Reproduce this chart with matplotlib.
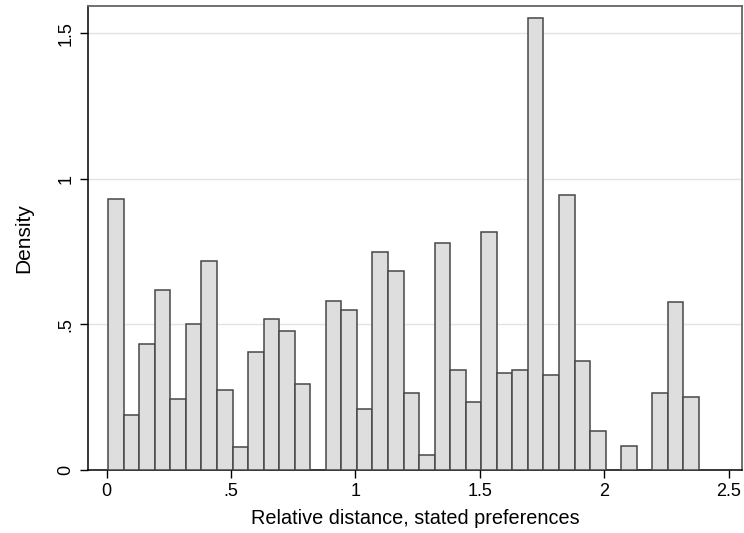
import numpy as np
import matplotlib
matplotlib.use("Agg")
import matplotlib.pyplot as plt

# histogram bins (38 bins, width ~0.0625, starting near 0.006)
bin_start = 0.006
bin_width = 0.0625
density = [0.931, 0.187, 0.430, 0.619, 0.242, 0.501, 0.718, 0.275, 0.076, 0.405,
           0.518, 0.476, 0.294, 0.0, 0.581, 0.548, 0.208, 0.749, 0.682, 0.263,
           0.050, 0.778, 0.343, 0.232, 0.817, 0.331, 0.343, 1.554, 0.325, 0.945,
           0.372, 0.133, 0.0, 0.081, 0.0, 0.263, 0.577, 0.249]
xticks = [0, 0.5, 1, 1.5, 2, 2.5]
xtick_labels = ["0", ".5", "1", "1.5", "2", "2.5"]
yticks = [0, 0.5, 1, 1.5]
ytick_labels = ["0", ".5", "1", "1.5"]

plt.rcParams["font.family"] = ["Liberation Sans", "DejaVu Sans"]

fig = plt.figure(figsize=(7.44, 5.33), dpi=100)
ax = fig.add_axes([0.1187, 0.1191, 0.8782, 0.8702])

lefts = bin_start + bin_width * np.arange(len(density))
heights = np.array(density)
mask = heights > 0
ax.bar(lefts[mask], heights[mask], width=bin_width, align="edge",
       color="#dedede", edgecolor="#474747", linewidth=1.1, zorder=3)

ax.set_xlim(-0.074, 2.553)
ax.set_ylim(0, 1.595)

for y in yticks[1:]:
    ax.axhline(y, color="#e3e3e3", linewidth=1.0, zorder=1)

ax.set_xticks(xticks)
ax.set_xticklabels(xtick_labels)
ax.set_yticks(yticks)
ax.set_yticklabels(ytick_labels, rotation=90, va="center")
ax.tick_params(axis="both", direction="out", length=6, width=1, labelsize=13,
               colors="black", pad=4)

for s in ["left", "bottom"]:
    ax.spines[s].set_color("black")
    ax.spines[s].set_linewidth(1.1)
for s in ["top", "right"]:
    ax.spines[s].set_color("#666666")
    ax.spines[s].set_linewidth(1.3)

ax.set_xlabel("Relative distance, stated preferences", fontsize=14.3)
ax.set_ylabel("Density", fontsize=15)
ax.xaxis.set_label_coords(0.5, -0.085)
ax.yaxis.set_label_coords(-0.085, 0.5)

fig.savefig("out.png", dpi=100, facecolor="white")
